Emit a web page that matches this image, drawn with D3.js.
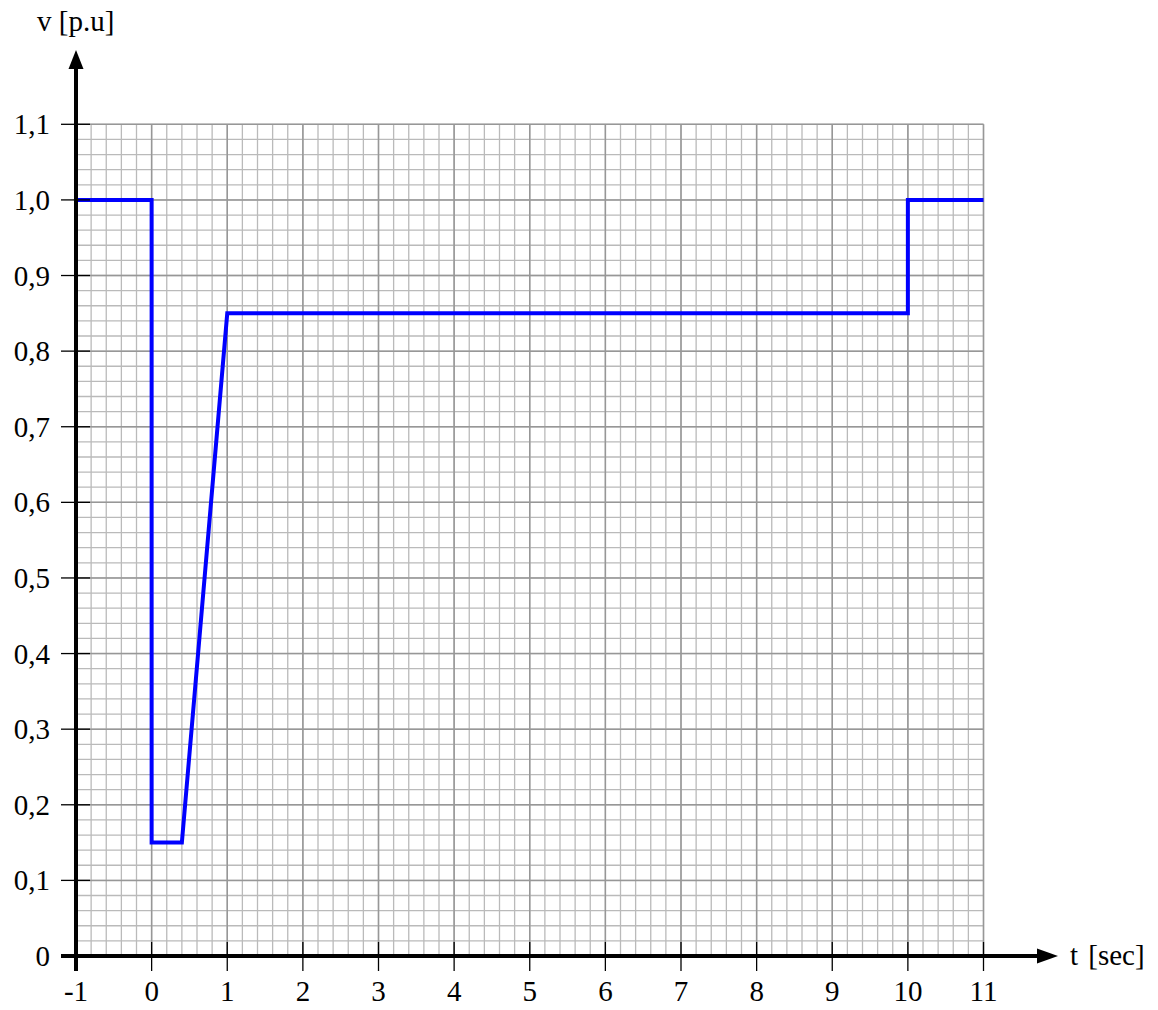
<!DOCTYPE html>
<html>
<head>
<meta charset="utf-8">
<script src="https://cdn.jsdelivr.net/npm/d3@7"></script>
<style>
  html, body { margin: 0; padding: 0; background: #fff; }
  svg text { font-family: "Liberation Serif", "DejaVu Serif", serif; fill: #000; }
</style>
</head>
<body>
<svg id="chart" width="1158" height="1010"></svg>
<script>
// Voltage profile v(t) in per-unit against time in seconds
const timeSec = [-1, 0, 0, 0.4, 1, 10, 10, 11];
const voltagePu = [1.0, 1.0, 0.15, 0.15, 0.85, 0.85, 1.0, 1.0];

const xTicks = [-1, 0, 1, 2, 3, 4, 5, 6, 7, 8, 9, 10, 11];
const xTickLabels = ["-1", "0", "1", "2", "3", "4", "5", "6", "7", "8", "9", "10", "11"];
const yTicks = [0, 0.1, 0.2, 0.3, 0.4, 0.5, 0.6, 0.7, 0.8, 0.9, 1.0, 1.1];
const yTickLabels = ["0", "0,1", "0,2", "0,3", "0,4", "0,5", "0,6", "0,7", "0,8", "0,9", "1,0", "1,1"];

const xAxisTitle = "t [sec]";
const yAxisTitle = "v [p.u]";

const svg = d3.select("#chart");

const x = d3.scaleLinear().domain([-1, 11]).range([76, 983.5]);
const y = d3.scaleLinear().domain([0, 1.1]).range([956, 124.3]);

const [x0, x1] = x.domain();
const [y0, y1] = y.domain();

// Fine graph-paper grid: minor lines every 0.2 s / 0.02 pu, major every 1 s / 0.1 pu
const minorX = d3.range(0, 61).map(i => x0 + i * 0.2);
const minorY = d3.range(0, 56).map(i => y0 + i * 0.02);

const grid = svg.append("g").attr("class", "grid");
grid.selectAll("line.mx").data(minorX).join("line")
  .attr("x1", d => x(d)).attr("x2", d => x(d))
  .attr("y1", y(y0)).attr("y2", y(y1))
  .attr("stroke", "#bababa").attr("stroke-width", 1.3);
grid.selectAll("line.my").data(minorY).join("line")
  .attr("x1", x(x0)).attr("x2", x(x1))
  .attr("y1", d => y(d)).attr("y2", d => y(d))
  .attr("stroke", "#bababa").attr("stroke-width", 1.3);
grid.selectAll("line.Mx").data(xTicks).join("line")
  .attr("x1", d => x(d)).attr("x2", d => x(d))
  .attr("y1", y(y0)).attr("y2", y(y1))
  .attr("stroke", "#979797").attr("stroke-width", 1.5);
grid.selectAll("line.My").data(yTicks).join("line")
  .attr("x1", x(x0)).attr("x2", x(x1))
  .attr("y1", d => y(d)).attr("y2", d => y(d))
  .attr("stroke", "#979797").attr("stroke-width", 1.5);

// Voltage curve
const pts = timeSec.map((t, i) => [t, voltagePu[i]]);
svg.append("path")
  .datum(pts)
  .attr("d", d3.line().x(d => x(d[0])).y(d => y(d[1])))
  .attr("fill", "none")
  .attr("stroke", "#0000ff")
  .attr("stroke-width", 4)
  .attr("stroke-linejoin", "miter");

// Axes with arrowheads
const axes = svg.append("g").attr("class", "axes");
const xAxisY = y(0), yAxisX = x(-1);

axes.append("line")
  .attr("x1", yAxisX - 15).attr("x2", 1040)
  .attr("y1", xAxisY).attr("y2", xAxisY)
  .attr("stroke", "#000").attr("stroke-width", 4);
axes.append("path")
  .attr("d", `M1058,${xAxisY} L1037,${xAxisY - 7.5} L1037,${xAxisY + 7.5} Z`)
  .attr("fill", "#000");

axes.append("line")
  .attr("x1", yAxisX).attr("x2", yAxisX)
  .attr("y1", xAxisY + 15).attr("y2", 66)
  .attr("stroke", "#000").attr("stroke-width", 4);
axes.append("path")
  .attr("d", `M${yAxisX},50 L${yAxisX - 7.5},69 L${yAxisX + 7.5},69 Z`)
  .attr("fill", "#000");

// Tick marks
axes.selectAll("line.xt").data(xTicks).join("line")
  .attr("x1", d => x(d)).attr("x2", d => x(d))
  .attr("y1", xAxisY - 14).attr("y2", xAxisY + 15)
  .attr("stroke", "#000").attr("stroke-width", 1.3);
axes.selectAll("line.yt").data(yTicks).join("line")
  .attr("x1", yAxisX - 15).attr("x2", yAxisX + 14)
  .attr("y1", d => y(d)).attr("y2", d => y(d))
  .attr("stroke", "#000").attr("stroke-width", 1.3);

// Tick labels
const fs = 29;
axes.selectAll("text.xl").data(xTicks).join("text")
  .attr("x", d => x(d)).attr("y", 1001)
  .attr("text-anchor", "middle")
  .attr("font-size", fs)
  .text((d, i) => xTickLabels[i]);
axes.selectAll("text.yl").data(yTicks).join("text")
  .attr("x", 50).attr("y", d => y(d) + 10)
  .attr("text-anchor", "end")
  .attr("font-size", fs)
  .text((d, i) => yTickLabels[i]);

// Axis titles
svg.append("text").attr("x", 1070).attr("y", 965)
  .attr("font-size", fs).attr("word-spacing", 3).text(xAxisTitle);
svg.append("text").attr("x", 37).attr("y", 31)
  .attr("font-size", fs).text(yAxisTitle);
</script>
</body>
</html>
